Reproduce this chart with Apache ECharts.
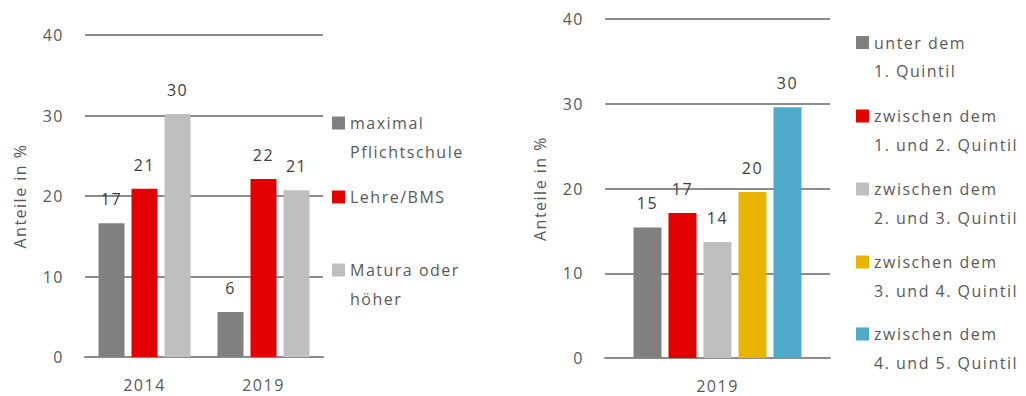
<!DOCTYPE html>
<html>
<head>
<meta charset="utf-8">
<script src="https://cdn.jsdelivr.net/npm/echarts@6/dist/echarts.min.js"></script>
<style>
  html, body { margin: 0; padding: 0; background: #fff; }
  #chart { width: 1026px; height: 396px; }
  /* slightly tracked lettering for every label in the chart */
  #chart text { letter-spacing: 1.5px; }
</style>
</head>
<body>
<div id="chart"></div>
<script>
// Left panel: share by education level, 2014 vs 2019
const yearsEdu = ['2014', '2019'];
const eduNames = ['maximal\nPflichtschule', 'Lehre/BMS', 'Matura oder\nhöher'];
const pflichtschule = [16.6, 5.6];
const lehreBms = [20.9, 22.1];
const maturaHoeher = [30.2, 20.7];

// Right panel: share by income quintile, 2019
const yearsQuint = ['2019'];
const quintNames = [
  'unter dem\n1. Quintil',
  'zwischen dem\n1. und 2. Quintil',
  'zwischen dem\n2. und 3. Quintil',
  'zwischen dem\n3. und 4. Quintil',
  'zwischen dem\n4. und 5. Quintil'
];
const quint1 = [15.4];
const quint2 = [17.1];
const quint3 = [13.7];
const quint4 = [19.6];
const quint5 = [29.6];

const yTicks = [0, 10, 20, 30, 40];
const axisTitle = 'Anteile in %';

const FONT = '"Open Sans", "Noto Sans", sans-serif';
const FS = 16;
const TEXT = '#595959';
const GRIDC = '#8c8c8c';
const LH = 28.5;

const eduColors = ['#808080', '#e30000', '#bfbfbf'];
const quintColors = ['#808080', '#e30000', '#bfbfbf', '#e8b400', '#4fa9cb'];

function yAxis(gridIndex) {
  return {
    type: 'value', gridIndex, min: yTicks[0], max: yTicks[yTicks.length - 1], interval: 10,
    name: axisTitle, nameLocation: 'middle', nameGap: 57, nameRotate: 90,
    nameTextStyle: { color: TEXT, fontFamily: FONT, fontSize: FS },
    axisLine: { show: false }, axisTick: { show: false },
    axisLabel: { color: TEXT, fontFamily: FONT, fontSize: FS, margin: 21 },
    splitLine: { lineStyle: { color: GRIDC, width: 2 } }
  };
}
function xAxis(gridIndex, data) {
  return {
    type: 'category', gridIndex, data,
    axisLine: { lineStyle: { color: GRIDC, width: 2 } },
    axisTick: { show: false },
    axisLabel: { color: TEXT, fontFamily: FONT, fontSize: FS, margin: 20 }
  };
}
function barSeries(name, data, color, idx, width, gap) {
  return {
    type: 'bar', name, data, xAxisIndex: idx, yAxisIndex: idx,
    barWidth: width, barGap: gap,
    itemStyle: { color },
    label: {
      show: true, position: 'top', distance: 16,
      color: '#404040', fontFamily: FONT, fontSize: FS,
      formatter: p => Math.round(p.value)
    }
  };
}
// one legend block per entry; a leading blank line keeps the swatch
// level with the first line of a two-line entry
function legendEntry(name, left, iconCenter) {
  const lines = name.split('\n').length;
  const shown = lines > 1 ? '\n' + name : name;
  const half = (lines > 1 ? 3 : 1) * LH / 2;
  return {
    data: [name], orient: 'vertical', left, top: iconCenter - half, padding: 0,
    itemWidth: 13, itemHeight: 13, icon: 'rect', selectedMode: false,
    formatter: () => shown,
    textStyle: { color: TEXT, fontFamily: FONT, fontSize: FS, lineHeight: LH }
  };
}

const eduData = [pflichtschule, lehreBms, maturaHoeher];
const quintData = [quint1, quint2, quint3, quint4, quint5];

const series = [];
eduNames.forEach((n, i) => series.push(barSeries(n, eduData[i], eduColors[i], 0, 26, '27%')));
quintNames.forEach((n, i) => series.push(barSeries(n, quintData[i], quintColors[i], 1, 28, '25%')));

const eduIconCenters = [123, 197, 270];
const quintIconCenters = [42.5, 116, 189, 262, 334];
const legends = [];
eduNames.forEach((n, i) => legends.push(legendEntry(n, 332, eduIconCenters[i])));
quintNames.forEach((n, i) => legends.push(legendEntry(n, 856, quintIconCenters[i])));

const chart = echarts.init(document.getElementById('chart'), null, { renderer: 'svg' });
chart.setOption({
  animation: false,
  color: eduColors.concat(quintColors),
  grid: [
    { left: 85, right: 703, top: 35, bottom: 39 },
    { left: 605, right: 196, top: 19, bottom: 38 }
  ],
  xAxis: [xAxis(0, yearsEdu), xAxis(1, yearsQuint)],
  yAxis: [yAxis(0), yAxis(1)],
  legend: legends,
  series
});
</script>
</body>
</html>
